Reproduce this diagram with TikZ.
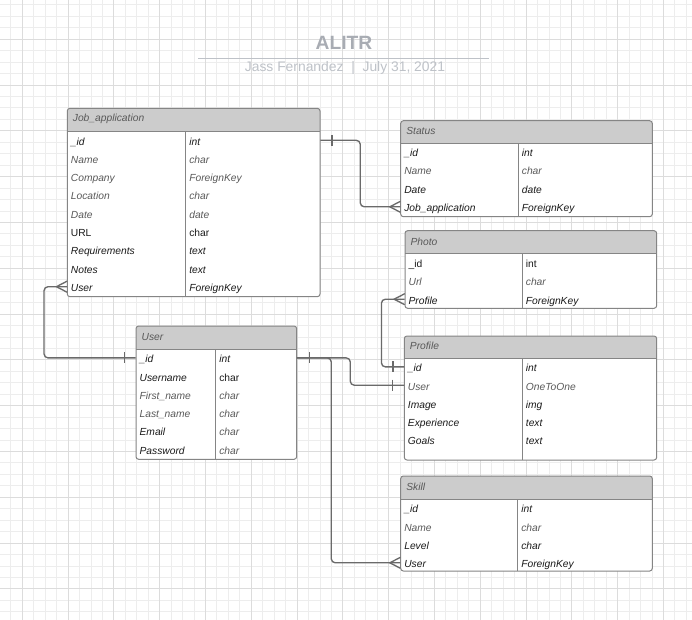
\documentclass[tikz,border=0pt]{standalone}
\usepackage{fontspec}
\setmainfont{Liberation Sans}
\usepackage{tikz}
\usetikzlibrary{fit}
\definecolor{gridlight}{HTML}{EDEDED}
\definecolor{gridmid}{HTML}{DCDCDC}
\definecolor{headgray}{HTML}{CCCCCC}
\definecolor{boxline}{HTML}{858585}
\definecolor{relline}{HTML}{6A6A6A}
\definecolor{inkdark}{HTML}{1A1A1A}
\definecolor{inkgray}{HTML}{595959}
\definecolor{titlegray}{HTML}{A8ACB3}
\definecolor{subgray}{HTML}{BEC2C8}
\newcommand{\fieldfont}{\fontsize{7.7}{9}\selectfont}

\tikzset{
  gridminor/.style={draw=gridlight, line width=0.75pt},
  gridmajor/.style={draw=gridmid, line width=0.75pt},
  tablebody/.style={fill=white, inner sep=0pt, rounded corners=2},
  tableline/.style={draw=boxline, line width=0.75pt},
  headtext/.style={anchor=west, inner sep=1pt, text=inkgray, font=\fieldfont\itshape},
  field/.style={anchor=west, inner sep=1pt, text height=.72em, text depth=0pt},
  fk/.style={field, text=inkdark, font=\fieldfont\itshape},
  fg/.style={field, text=inkgray, font=\fieldfont\itshape},
  fu/.style={field, text=inkdark, font=\fieldfont},
  rel/.style={draw=relline, line width=1pt, rounded corners=3},
  crow/.pic={\draw[rel, rounded corners=0] (0,-5.5) -- (-10.6,0) -- (0,5.5);},
  bar/.pic={\draw[rel, rounded corners=0] (#1,-5.5) -- (#1,5.5);},
}

% name, left, top, right, divider, header bottom, bottom, title, rows
\newcommand{\erdtable}[9]{%
  \coordinate (#1-nw) at (#2,#3);
  \coordinate (#1-se) at (#4,#7);
  \node[tablebody, fit=(#1-nw)(#1-se)] (#1) {};
  \begin{scope}
    \clip[rounded corners=2] (#1-nw) rectangle (#1-se);
    \fill[headgray] (#1-nw) rectangle (#4,#6);
  \end{scope}
  \draw[tableline, rounded corners=2] (#1-nw) rectangle (#1-se);
  \draw[tableline] (#2,#6) -- (#4,#6) (#5,#6) -- (#5,#7);
  \node[headtext] (#1-title) at (#2+4,{(#3+#6)/2-1}) {#8};
  \foreach \fname/\fst/\ftype/\tst [count=\i] in {#9} {
    \node[\fst] (#1-\i) at (#2+2,#6+8.6+18.3*\i-18.3) {\fname};
    \node[\tst] (#1-\i-type) at (#5+2,#6+8.6+18.3*\i-18.3) {\ftype};
  }
}

\begin{document}
\begin{tikzpicture}[x=0.75pt, y=-0.75pt]
  \useasboundingbox (0,0) rectangle (692,620);

  % Grid paper
  \begin{scope}
    \clip (0,0) rectangle (692,620);
    \fill[white] (0,0) rectangle (692,620);
    \foreach \i in {0,...,60} \draw[gridminor] (10.85+11.45*\i,0) -- (10.85+11.45*\i,620);
    \foreach \i in {0,...,54} \draw[gridminor] (0,4.95+11.45*\i) -- (692,4.95+11.45*\i);
    \foreach \i in {0,...,14} \draw[gridmajor] (22.3+45.8*\i,0) -- (22.3+45.8*\i,620);
    \foreach \i in {0,...,12} \draw[gridmajor] (0,39.3+45.8*\i) -- (692,39.3+45.8*\i);
  \end{scope}

  % Title block
  \node[text=titlegray, font=\fontsize{14.4}{15}\selectfont\bfseries] (title) at (344,43) {ALITR};
  \draw[subgray, line width=1pt] (198,58.3) -- (489,58.3);
  \node[text=subgray, font=\fontsize{10.4}{12}\selectfont] (byline) at (345,67.7) {Jass Fernandez\ \ |\ \ July 31, 2021};

  % Tables
  \erdtable{ja}{67.3}{108.3}{320}{185.7}{131.7}{296.7}{Job\_application}
    {\_id/fk/int/fk, Name/fg/char/fg, Company/fg/ForeignKey/fg, Location/fg/char/fg,
     Date/fg/date/fg, URL/fu/char/fu, Requirements/fk/text/fk, Notes/fk/text/fk,
     User/fk/ForeignKey/fk}
  \erdtable{st}{400.7}{120.7}{652.3}{518.3}{143.3}{216.7}{Status}
    {\_id/fk/int/fk, Name/fg/char/fg, Date/fk/date/fk, Job\_application/fk/ForeignKey/fk}
  \erdtable{ph}{405}{230.7}{656.7}{522.3}{254}{308.3}{Photo}
    {\_id/fu/int/fu, Url/fg/char/fg, Profile/fk/ForeignKey/fk}
  \erdtable{us}{136}{326}{296.7}{215.7}{349.3}{459.3}{User}
    {\_id/fk/int/fk, Username/fk/char/fu, First\_name/fg/char/fg, Last\_name/fg/char/fg,
     Email/fk/char/fg, Password/fk/char/fg}
  \erdtable{pr}{404.3}{336}{656.7}{522.3}{358.3}{460}{Profile}
    {\_id/fk/int/fk, User/fg/OneToOne/fg, Image/fk/img/fk, Experience/fk/text/fk, Goals/fk/text/fk}
  \erdtable{sk}{400.7}{476}{652.3}{517.7}{499.3}{571}{Skill}
    {\_id/fk/int/fk, Name/fg/char/fg, Level/fk/char/fk, User/fk/ForeignKey/fk}

  % Relations
  \draw[rel] (ja.west |- ja-9) -- ++(-23,0) |- (us.west |- us-1);
  \pic at (ja.west |- ja-9) {crow};
  \pic at (us.west |- us-1) {bar=-11};

  \draw[rel] (ja.east |- ja-1) -- ++(40,0) |- (st.west |- st-4);
  \pic at (ja.east |- ja-1) {bar=11.7};
  \pic at (st.west |- st-4) {crow};

  \draw[rel] (us.east |- us-1) -- ++(53.3,0) |- (pr.west |- pr-2);
  \draw[rel] (us.east |- us-1) -- ++(34.3,0) |- (sk.west |- sk-4);
  \pic at (us.east |- us-1) {bar=12.3};
  \pic at (pr.west |- pr-2) {bar=-11.6};
  \pic at (sk.west |- sk-4) {crow};

  \draw[rel] (ph.west |- ph-3) -- ++(-23.3,0) |- (pr.west |- pr-1);
  \pic at (ph.west |- ph-3) {crow};
  \pic at (pr.west |- pr-1) {bar=-11};
\end{tikzpicture}
\end{document}
